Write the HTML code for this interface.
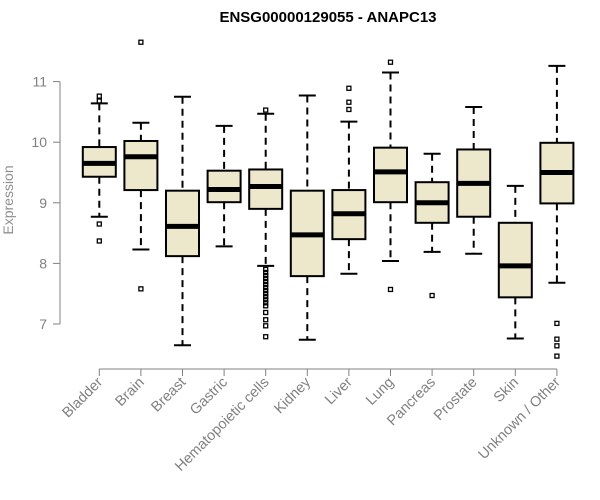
<!DOCTYPE html>
<html><head><meta charset="utf-8"><style>body{margin:0;background:#fff}svg{display:block;font-family:"Liberation Sans",Arial,sans-serif}</style></head>
<body>
<svg id="chart" width="600" height="500">
<text x="328" y="22" text-anchor="middle" font-weight="bold" font-size="15">ENSG00000129055 - ANAPC13</text>
<text transform="translate(13,200) rotate(-90)" text-anchor="middle" font-size="14" fill="#909090">Expression</text>
<g id="yaxis"></g>
<g id="xaxis"></g>
<g id="boxes"></g>
</svg>
<script>
const categories=["Bladder","Brain","Breast","Gastric","Hematopoietic cells","Kidney","Liver","Lung","Pancreas","Prostate","Skin","Unknown / Other"];
const q1=[9.43,9.21,8.12,9.01,8.90,7.79,8.40,9.01,8.67,8.77,7.44,8.99];
const medians=[9.65,9.76,8.61,9.22,9.27,8.47,8.82,9.51,9.00,9.32,7.96,9.50];
const q3=[9.92,10.02,9.20,9.53,9.55,9.20,9.21,9.91,9.34,9.88,8.67,9.99];
const whiskerLow=[8.77,8.23,6.65,8.28,7.96,6.74,7.83,8.04,8.19,8.16,6.76,7.68];
const whiskerHigh=[10.64,10.32,10.75,10.27,10.47,10.77,10.34,11.15,9.81,10.58,9.28,11.26];
const outliers=[[10.76,10.68,8.65,8.37],[11.65,7.58],[],[],[10.53,7.9,7.85,7.8,7.75,7.7,7.65,7.6,7.55,7.5,7.45,7.4,7.35,7.3,7.19,7.07,6.97,6.79],[],[10.89,10.66,10.54],[11.32,7.57],[7.47],[],[],[7.01,6.75,6.64,6.47]];
const yTicks=[7,8,9,10,11];
const NS="http://www.w3.org/2000/svg";
function y(v){return 324-(v-7)*60.6;}
function x(i){return 99.3+41.6*i;}
function mk(p,t,a){const e=document.createElementNS(NS,t);for(const k in a)e.setAttribute(k,a[k]);p.appendChild(e);return e;}
const ya=document.getElementById('yaxis');
const l=mk(ya,'line',{x1:60,x2:60,y1:y(7),y2:y(11),stroke:'#808080'});


yTicks.forEach(t=>{
 const tk=mk(ya,'line',{x1:53,x2:60,y1:y(t),y2:y(t),stroke:'#808080'});
 
 
 const tx=mk(ya,'text',{x:47,y:y(t)+5,'text-anchor':'end','font-size':14,fill:'#808080'});
 tx.textContent=t;
 
 
});
const xa=document.getElementById('xaxis');
const xl=mk(xa,'line',{x1:x(0),x2:x(categories.length-1),y1:369,y2:369,stroke:'#808080'});


categories.forEach((c,i)=>{
 const tk=mk(xa,'line',{x1:x(i),x2:x(i),y1:369,y2:376,stroke:'#808080'});
 
 
 const tx=mk(xa,'text',{transform:`translate(${x(i)+4},383) rotate(-45)`,'text-anchor':'end','font-size':14.5,fill:'#808080'});
 tx.textContent=c;
 
 
});
const bx=document.getElementById('boxes');
categories.forEach((c,i)=>{
 const cx=x(i);
 const g=mk(bx,'g',{});
 
 
 mk(g,'line',{x1:cx,x2:cx,y1:y(whiskerHigh[i]),y2:y(q3[i]),stroke:'#000','stroke-width':2,'stroke-dasharray':'7,5'});
 mk(g,'line',{x1:cx,x2:cx,y1:y(q1[i]),y2:y(whiskerLow[i]),stroke:'#000','stroke-width':2,'stroke-dasharray':'7,5'});
 mk(g,'line',{x1:cx-8.5,x2:cx+8.5,y1:y(whiskerHigh[i]),y2:y(whiskerHigh[i]),stroke:'#000','stroke-width':2});
 mk(g,'line',{x1:cx-8.5,x2:cx+8.5,y1:y(whiskerLow[i]),y2:y(whiskerLow[i]),stroke:'#000','stroke-width':2});
 mk(g,'rect',{x:cx-16.5,y:y(q3[i]),width:33,height:y(q1[i])-y(q3[i]),fill:'#ede7cc',stroke:'#000','stroke-width':2});
 mk(g,'line',{x1:cx-16.5,x2:cx+16.5,y1:y(medians[i]),y2:y(medians[i]),stroke:'#000','stroke-width':5});
 outliers[i].forEach(o=>{
  const r=mk(g,'rect',{x:cx-2,y:y(o)-2,width:4,height:4,fill:'none',stroke:'#000','stroke-width':1.3});
  
  
 });
});
</script>
</body></html>
